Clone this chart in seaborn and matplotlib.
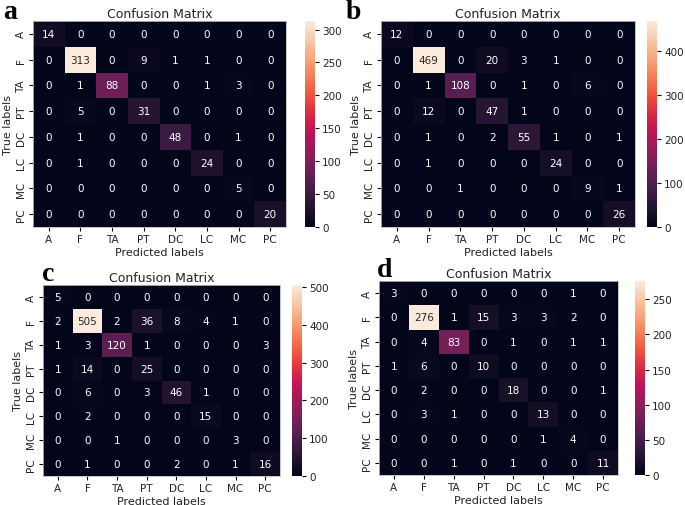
import numpy as np
import matplotlib
import matplotlib.pyplot as plt
import seaborn as sns

matplotlib.use('Agg')

# class labels shared by all four matrices
labels = ['A', 'F', 'TA', 'PT', 'DC', 'LC', 'MC', 'PC']

cm_a = [[14, 0, 0, 0, 0, 0, 0, 0],
        [0, 313, 0, 9, 1, 1, 0, 0],
        [0, 1, 88, 0, 0, 1, 3, 0],
        [0, 5, 0, 31, 0, 0, 0, 0],
        [0, 1, 0, 0, 48, 0, 1, 0],
        [0, 1, 0, 0, 0, 24, 0, 0],
        [0, 0, 0, 0, 0, 0, 5, 0],
        [0, 0, 0, 0, 0, 0, 0, 20]]

cm_b = [[12, 0, 0, 0, 0, 0, 0, 0],
        [0, 469, 0, 20, 3, 1, 0, 0],
        [0, 1, 108, 0, 1, 0, 6, 0],
        [0, 12, 0, 47, 1, 0, 0, 0],
        [0, 1, 0, 2, 55, 1, 0, 1],
        [0, 1, 0, 0, 0, 24, 0, 0],
        [0, 0, 1, 0, 0, 0, 9, 1],
        [0, 0, 0, 0, 0, 0, 0, 26]]

cm_c = [[5, 0, 0, 0, 0, 0, 0, 0],
        [2, 505, 2, 36, 8, 4, 1, 0],
        [1, 3, 120, 1, 0, 0, 0, 3],
        [1, 14, 0, 25, 0, 0, 0, 0],
        [0, 6, 0, 3, 46, 1, 0, 0],
        [0, 2, 0, 0, 0, 15, 0, 0],
        [0, 0, 1, 0, 0, 0, 3, 0],
        [0, 1, 0, 0, 2, 0, 1, 16]]

cm_d = [[3, 0, 0, 0, 0, 0, 1, 0],
        [0, 276, 1, 15, 3, 3, 2, 0],
        [0, 4, 83, 0, 1, 0, 1, 1],
        [1, 6, 0, 10, 0, 0, 0, 0],
        [0, 2, 0, 0, 18, 0, 0, 1],
        [0, 3, 1, 0, 0, 13, 0, 0],
        [0, 0, 0, 0, 0, 1, 4, 0],
        [0, 0, 1, 0, 1, 0, 0, 11]]

panel_letters = ['a', 'b', 'c', 'd']

W, H = 685, 506
fig = plt.figure(figsize=(W / 100, H / 100), dpi=100)

def frac(x0, y0, x1, y1):
    # pixel box (top-left origin) -> figure fraction rect
    return [x0 / W, 1 - y1 / H, (x1 - x0) / W, (y1 - y0) / H]

# heatmap box, colorbar box, letter position (pixels)
layout = [
    ((33, 22, 286, 228), (305, 22, 315, 228), (3, 19)),
    ((381, 22, 635, 228), (647, 22, 657, 228), (346, 19)),
    ((43, 286, 280, 477), (292, 286, 302, 477), (42, 281)),
    ((379, 282, 618, 476), (635, 282, 645, 476), (377, 277)),
]

for cm, letter, (hbox, cbox, lpos) in zip([cm_a, cm_b, cm_c, cm_d], panel_letters, layout):
    ax = fig.add_axes(frac(*hbox))
    cax = fig.add_axes(frac(*cbox))
    sns.heatmap(np.array(cm), annot=True, fmt='d', cmap='rocket', ax=ax, cbar_ax=cax,
                xticklabels=labels, yticklabels=labels,
                annot_kws={'fontsize': 7.5})
    ax.set_title('Confusion Matrix', fontsize=9, pad=3, color='#222222')
    ax.set_xlabel('Predicted labels', fontsize=8, labelpad=2, color='#222222')
    ax.set_ylabel('True labels', fontsize=8, labelpad=2, color='#222222')
    ax.tick_params(labelsize=7.5, length=3, pad=2, labelcolor='#222222')
    for s in ax.spines.values():
        s.set_visible(True)
        s.set_color('#bbbbbb')
        s.set_linewidth(0.6)
    cax.tick_params(labelsize=7.5, length=3, pad=2, labelcolor='#222222')
    fig.text(lpos[0] / W, 1 - lpos[1] / H, letter, fontsize=20, fontweight='bold',
             family='Liberation Serif', ha='left', va='baseline')

fig.savefig('out.png', dpi=100)
